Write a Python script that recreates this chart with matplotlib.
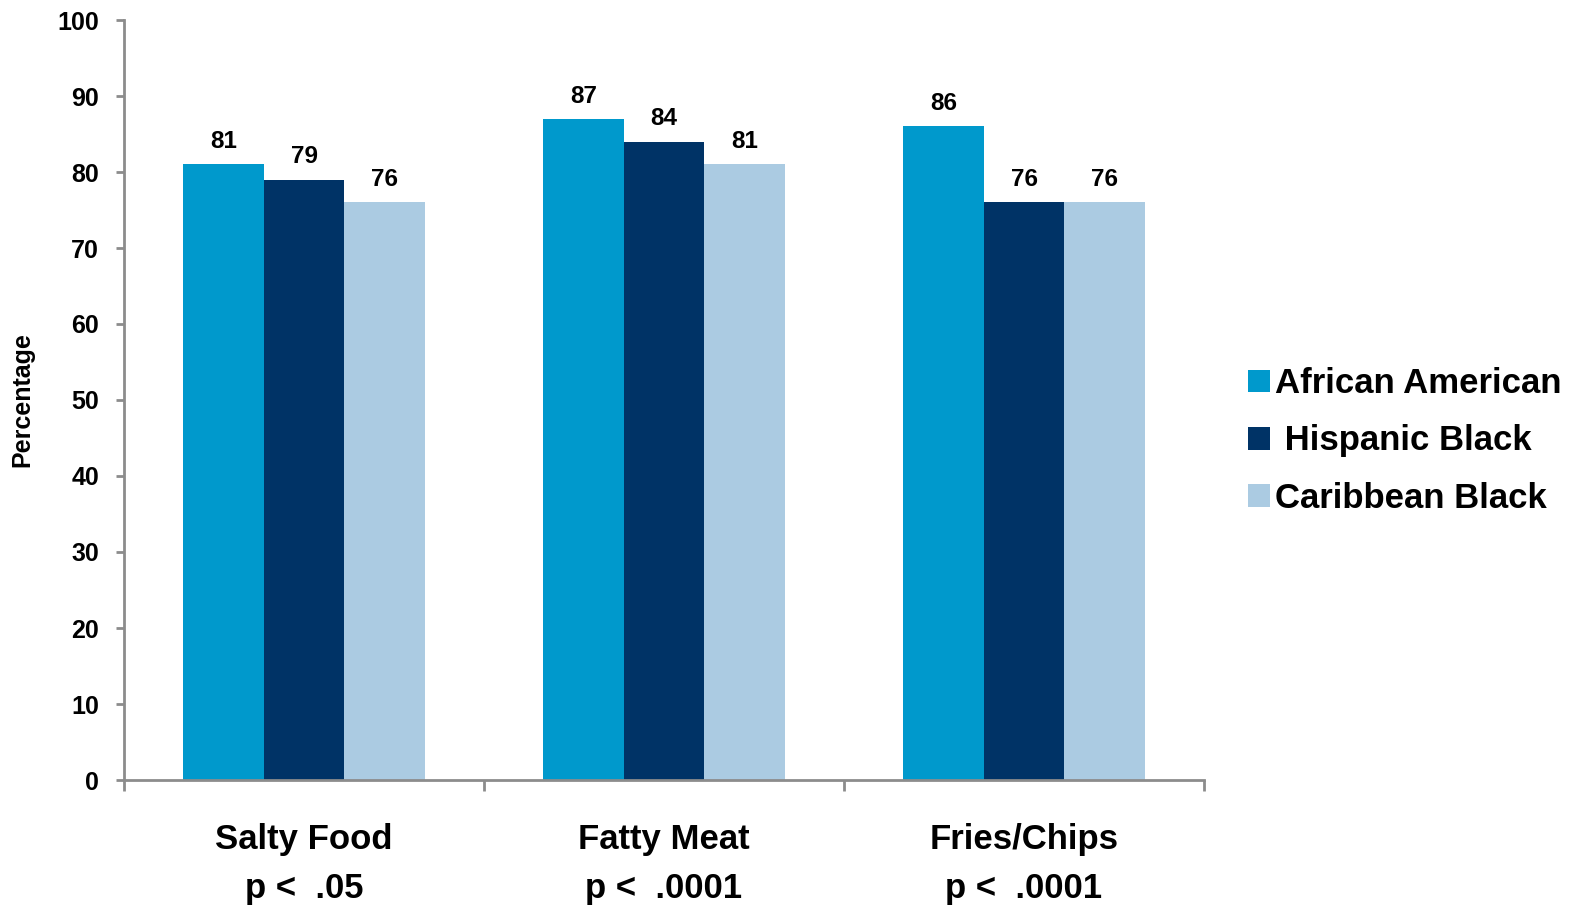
import matplotlib
matplotlib.use("Agg")
import matplotlib.pyplot as plt
import numpy as np

categories = ["Salty Food\np <  .05", "Fatty Meat\np <  .0001", "Fries/Chips\np <  .0001"]
series_names = ["African American", " Hispanic Black", "Caribbean Black"]
african_american = [81, 87, 86]
hispanic_black = [79, 84, 76]
caribbean_black = [76, 81, 76]
colors = ["#0099CC", "#003366", "#ABCBE2"]
yticks = list(range(0, 101, 10))

plt.rcParams['font.family'] = ['Liberation Sans', 'DejaVu Sans']
plt.rcParams['font.weight'] = 'bold'

fig = plt.figure(figsize=(15.73, 9.09), dpi=100)
ax = fig.add_axes([124/1573, 1-780/909, 1080/1573, 760/909])

x = np.arange(len(categories))
w = 0.224
series = [african_american, hispanic_black, caribbean_black]
for i, (vals, name, c) in enumerate(zip(series, series_names, colors)):
    bars = ax.bar(x + (i - 1) * w, vals, width=w, color=c, label=name, zorder=2)
    for b, v in zip(bars, vals):
        ax.annotate(f"{v}", (b.get_x() + b.get_width()/2, v), xytext=(0, 8),
                    textcoords="offset points", ha="center", va="bottom",
                    fontsize=17.5, fontweight="bold")

ax.set_xlim(-0.5, 2.5)
ax.set_ylim(0, 100)
ax.set_yticks(yticks)
ax.set_yticklabels([str(t) for t in yticks], fontsize=18, fontweight="bold")

ax.set_xticks([-0.5, 0.5, 1.5, 2.5])
ax.set_xticklabels([])
ax.set_xticks(x, minor=True)
ax.set_xticklabels(categories, minor=True, fontsize=25, fontweight="bold", linespacing=1.62)
ax.tick_params(axis="x", which="minor", length=0, pad=31)
ax.tick_params(axis="x", which="major", length=8, width=2, color="#8C8C8C", direction="out")
ax.tick_params(axis="y", length=6, width=2, color="#8C8C8C", direction="out", pad=12)

for s in ["top", "right"]:
    ax.spines[s].set_visible(False)
for s in ["left", "bottom"]:
    ax.spines[s].set_color("#8C8C8C")
    ax.spines[s].set_linewidth(2)

ax.set_ylabel("Percentage", fontsize=18, fontweight="bold")
ax.yaxis.set_label_coords(-90/1080, 0.5)

fig.legend(loc="center left", bbox_to_anchor=(1248/1573, 1-441/909),
           bbox_transform=fig.transFigure, frameon=False, fontsize=25,
           handlelength=0.62, handleheight=0.62, handletextpad=0.15,
           labelspacing=0.7, borderpad=0, borderaxespad=0)

fig.savefig("out.png", dpi=100)
